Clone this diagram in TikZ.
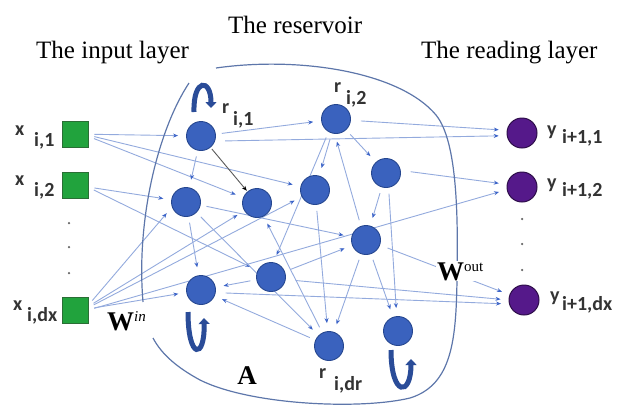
\documentclass[tikz,border=0pt]{standalone}
\usepackage{fontspec}
\setmainfont{Liberation Serif}
\newfontfamily\labfont{Carlito}
\usetikzlibrary{arrows.meta,backgrounds}
\definecolor{neuf}{HTML}{3A62BE}
\definecolor{neud}{HTML}{25468F}
\definecolor{grn}{HTML}{21A33D}
\definecolor{grnd}{HTML}{2A6E35}
\definecolor{pur}{HTML}{55198A}
\definecolor{purd}{HTML}{2E0E4A}
\definecolor{edgec}{HTML}{93AADD}
\definecolor{tipc}{HTML}{3C64C8}
\definecolor{outl}{HTML}{5D76AA}
\definecolor{loopc}{HTML}{2A4C98}
\definecolor{labc}{HTML}{333333}
\begin{document}
\begin{tikzpicture}[x=1pt,y=-1pt,
  neuron/.style={circle,fill=neuf,draw=neud,line width=0.9pt,minimum size=29pt,inner sep=0pt},
  inp/.style={rectangle,fill=grn,draw=grnd,line width=0.8pt,minimum size=26pt,inner sep=0pt},
  outn/.style={circle,fill=pur,draw=purd,line width=1pt,minimum size=30pt,inner sep=0pt},
  edge/.style={draw=edgec,line width=0.9pt,-{Stealth[length=5pt,width=4pt,color=tipc]},shorten <=6pt,shorten >=8pt},
  darkedge/.style={draw=black!65,line width=0.9pt,-{Stealth[length=5pt,width=4pt,color=black]},shorten <=2pt,shorten >=1pt},
  selfloop/.style={draw=loopc,line width=5pt,-{Triangle[length=6pt,width=11pt]}},
  title/.style={font=\fontsize{25}{30}\selectfont,inner sep=0pt,anchor=base west},
  lab/.style={font=\labfont\bfseries\fontsize{20}{24}\selectfont,text=labc,inner sep=0pt,anchor=base west},
  wlab/.style={font=\bfseries\fontsize{27}{30}\selectfont,inner sep=1pt,anchor=base west,fill=white},
  dotn/.style={circle,fill=black!60,inner sep=0pt,minimum size=2.5pt}
]
\useasboundingbox (0,0) rectangle (628,408);

% titles
\node[title] (tin) at (36,58) {The input layer};
\node[title] (tres) at (228,33) {The reservoir};
\node[title] (tout) at (421,58) {The reading layer};

% reservoir outline
\draw[outl,line width=1.2pt] (216,68) .. controls (300,56) and (400,72) .. (436,115)
  .. controls (458,142) and (458,220) .. (457,280)
  .. controls (456,340) and (452,385) .. (410,398)
  .. controls (360,410) and (250,405) .. (200,380)
  .. controls (178,368) and (162,355) .. (153,338);
\draw[outl,line width=1.2pt] (189,83) .. controls (158,130) and (136,220) .. (143,302);

% input nodes
\node[inp] (x1) at (75,134) {};
\node[inp] (x2) at (75,185) {};
\node[inp] (xd) at (75,310) {};
\node[dotn] (di1) at (69,223) {};
\node[dotn] (di2) at (69,247) {};
\node[dotn] (di3) at (69,273) {};

% reservoir nodes
\node[neuron] (r1) at (201,136) {};
\node[neuron] (r2) at (336,119) {};
\node[neuron] (na) at (186,202) {};
\node[neuron] (nb) at (257,203) {};
\node[neuron] (nc) at (315,190) {};
\node[neuron] (nd) at (386,173) {};
\node[neuron] (ne) at (366,240) {};
\node[neuron] (nf) at (271,277) {};
\node[neuron] (ng) at (201,290) {};
\node[neuron] (rdr) at (329,346) {};
\node[neuron] (nh) at (398,331) {};

% output nodes
\node[outn] (y1) at (522,133) {};
\node[outn] (y2) at (522,187) {};
\node[outn] (yd) at (524,300) {};
\node[dotn] (do1) at (522,219) {};
\node[dotn] (do2) at (522,244) {};
\node[dotn] (do3) at (522,270) {};

% labels
\node[lab] (lx1a) at (15,135) {x};
\node[lab] (lx1b) at (34,146) {i,1};
\node[lab] (lx2a) at (15,185) {x};
\node[lab] (lx2b) at (34,196) {i,2};
\node[lab] (lxda) at (13,310) {x};
\node[lab] (lxdb) at (27,321) {i,dx};
\node[lab] (lr1a) at (222,113) {r};
\node[lab] (lr1b) at (233,125) {i,1};
\node[lab] (lr2a) at (334,92) {r};
\node[lab] (lr2b) at (346,104) {i,2};
\node[lab] (lrda) at (319,378) {r};
\node[lab] (lrdb) at (334,390) {i,dr};
\node[lab] (ly1a) at (547,135) {y};
\node[lab] (ly1b) at (562,143) {i+1,1};
\node[lab] (ly2a) at (547,188) {y};
\node[lab] (ly2b) at (562,196) {i+1,2};
\node[lab] (lyda) at (550,301) {y};
\node[lab] (lydb) at (562,310) {i+1,dx};

% self loops
\draw[selfloop] (194,112) .. controls (193,78) and (211,78) .. (211,108);
\draw[selfloop] (188,312) .. controls (188,360) and (205,360) .. (204,318);
\draw[selfloop] (391,350) .. controls (391,397) and (411,397) .. (411,359);

\begin{scope}[on background layer]
% input edges
\draw[edge] (x1) -- (r1);
\draw[edge] (x1.-10) -- (nb);
\draw[edge] (x1.-5) -- (nc);
\draw[edge] (x2) -- (na);
\draw[edge] (x2.-10) -- (nf);
\draw[edge] (xd.20) -- (na.200);
\draw[edge] (xd.15) -- (nb);
\draw[edge] (xd.10) -- (nc);
\draw[edge] (xd.5) -- (ng);
\draw[edge] (xd.0) -- (y2.190);
% reservoir edges
\draw[edge] (r1) -- (r2);
\draw[edge] (r1) -- (na);
\draw[edge,shorten <=10pt] (r1.-20) -- (y1.190);
\draw[edge,shorten <=10pt] (r2.-5) -- (y1.170);
\draw[edge] (r2) -- (nd);
\draw[edge] (r2) -- (nc);
\draw[edge] (r2.240) -- (nf.80);
\draw[edge] (ne.110) -- (r2.265);
\draw[edge] (nd) -- (ne);
\draw[edge] (nd.-80) -- (nh.95);
\draw[edge,shorten <=10pt] (nd.10) -- (y2.170);
\draw[edge,shorten <=8pt] (ne.-20) -- (yd.160);
\draw[edge] (ne) -- (nh);
\draw[edge] (ne) -- (rdr);
\draw[edge] (nf) -- (ne);
\draw[edge] (nf) -- (ng);
\draw[edge,shorten <=10pt] (nf.-10) -- (yd.180);
\draw[edge,shorten <=10pt] (ng.-10) -- (yd.195);
\draw[edge] (na) -- (ne);
\draw[edge] (na) -- (ng);
\draw[edge] (na) -- (rdr);
\draw[edge] (nc) -- (rdr);
\draw[edge] (rdr) -- (ng);
\draw[edge] (rdr) -- (nb);
\end{scope}
\draw[darkedge] (r1) -- (nb);

% weight labels
\node[wlab] (win) at (106,330) {W\raisebox{9pt}{\normalfont\fontsize{15}{16}\selectfont\itshape in}};
\node[wlab] (wout) at (436,280) {W\raisebox{9pt}{\normalfont\fontsize{15}{16}\selectfont out}};
\node[font=\bfseries\fontsize{27}{30}\selectfont,inner sep=0pt,anchor=base] (amat) at (247,384) {A};
\end{tikzpicture}
\end{document}
